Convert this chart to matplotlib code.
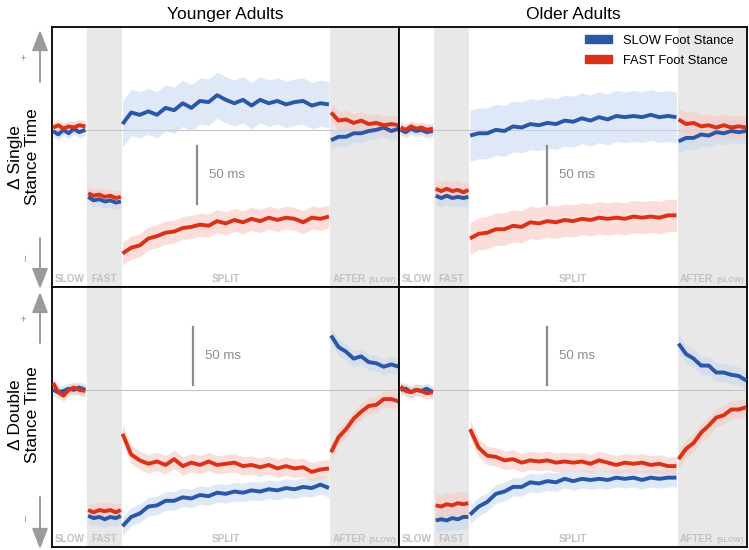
import numpy as np
import matplotlib
matplotlib.use("Agg")
import matplotlib.pyplot as plt
from matplotlib.patches import Patch

plt.rcParams['font.family'] = ['Liberation Sans', 'DejaVu Sans']

BLUE = '#2a57a8'
RED = '#da3219'
BLUE_BAND = '#c9d9f0'
RED_BAND = '#f9c9c2'
SHADE = '#e8e8e8'

# phase boundaries (percent of panel width)
PHASES = [0, 10, 20, 80, 100]

# sample positions inside each phase
X_SLOW = [0.3, 1.8, 3.3, 4.8, 6.3, 7.8, 9.6]
X_FAST = [10.4, 12.0, 13.6, 15.2, 16.8, 18.4, 19.8]
X_SPLIT = np.linspace(20.3, 79.7, 25)
X_AFTER = np.linspace(80.3, 99.8, 10)

# --- Younger adults, single stance (ms) ---
YS_BLUE = [[-1, -4, 0, -3, 1, -2, 0],
           [-58, -61, -60, -62, -61, -63, -62],
           [5, 15, 13, 16, 13, 19, 17, 23, 19, 25, 24, 30, 26, 23, 26, 21, 26, 23, 25, 22, 24, 25, 21, 23, 22],
           [-9, -6, -6, -3, -3, -1, 0, 2, -1, 1]]
YS_RED = [[2, 4, 1, 3, 2, 4, 3],
          [-55, -57, -56, -58, -57, -59, -58],
          [-107, -102, -100, -94, -92, -89, -88, -85, -84, -82, -83, -79, -81, -78, -80, -77, -79, -76, -78, -76, -77, -80, -76, -77, -75],
          [15, 8, 9, 6, 8, 5, 6, 4, 5, 4]]
YS_BAND = [[5, 5], [6, 6], [20, 10], [8, 8]]

# --- Older adults, single stance ---
OS_BLUE = [[0, -2, 1, -1, 0, -2, -1],
           [-57, -59, -57, -59, -58, -59, -58],
           [-5, -3, -3, 0, -1, 3, 2, 5, 4, 6, 5, 8, 7, 10, 8, 11, 9, 12, 11, 12, 11, 13, 11, 12, 11],
           [-10, -7, -7, -4, -5, -2, -3, -1, -2, -1]]
OS_RED = [[2, 0, 3, 1, 2, 0, 1],
          [-51, -53, -51, -53, -52, -54, -52],
          [-94, -90, -89, -86, -86, -83, -84, -80, -81, -79, -80, -78, -79, -77, -78, -76, -77, -76, -77, -75, -76, -75, -76, -74, -74],
          [9, 5, 6, 3, 4, 2, 4, 2, 3, 2]]
OS_BAND = [[5, 5], [8, 8], [22, 14], [10, 10]]

# --- Younger adults, double stance ---
YD_BLUE = [[0, -2, -1, 1, 0, 2, 0],
           [-109, -111, -110, -112, -110, -111, -109],
           [-118, -110, -107, -101, -100, -96, -96, -93, -94, -91, -92, -89, -90, -88, -89, -87, -88, -86, -87, -85, -86, -84, -85, -82, -85],
           [47, 37, 33, 27, 29, 24, 23, 20, 22, 20]]
YD_RED = [[6, -2, -5, 0, 2, 0, -1],
          [-104, -106, -104, -105, -104, -106, -104],
          [-38, -56, -61, -64, -62, -65, -60, -66, -63, -65, -62, -65, -64, -63, -66, -65, -67, -65, -68, -66, -68, -67, -71, -69, -68],
          [-54, -41, -34, -25, -19, -14, -13, -8, -8, -10]]
YD_BAND = [[5, 5], [7, 7], [8, 8], [7, 7]]

# --- Older adults, double stance ---
OD_BLUE = [[0, 1, -2, 0, -1, 1, -2],
           [-113, -112, -113, -111, -112, -110, -110],
           [-108, -101, -97, -90, -88, -84, -84, -80, -81, -79, -80, -77, -79, -77, -78, -77, -78, -76, -77, -76, -78, -76, -77, -76, -76],
           [40, 31, 27, 21, 21, 15, 15, 13, 12, 8]]
OD_RED = [[3, -1, -2, 0, -1, -3, -2],
          [-100, -101, -99, -100, -98, -99, -98],
          [-34, -50, -57, -58, -61, -60, -63, -61, -62, -61, -63, -62, -63, -62, -64, -61, -63, -65, -63, -64, -63, -65, -64, -66, -66],
          [-60, -51, -46, -37, -31, -24, -22, -17, -17, -15]]
OD_BAND = [[5, 5], [10, 10], [8, 8], [8, 8]]

COL_TITLES = ['Younger Adults', 'Older Adults']
ROW_LABELS = ['\u0394 Single\nStance Time', '\u0394 Double\nStance Time']
PHASE_LABELS = ['SLOW', 'FAST', 'SPLIT']
LEGEND_LABELS = ['SLOW Foot Stance', 'FAST Foot Stance']

YLIM = (-136, 89)

fig = plt.figure(figsize=(7.49, 5.5), dpi=100)
gs = fig.add_gridspec(2, 2, left=52/749, right=747/749, top=1-27/550, bottom=3/550,
                      wspace=0, hspace=0)

panels = [[(YS_BLUE, YS_RED, YS_BAND), (OS_BLUE, OS_RED, OS_BAND)],
          [(YD_BLUE, YD_RED, YD_BAND), (OD_BLUE, OD_RED, OD_BAND)]]
xs = [X_SLOW, X_FAST, X_SPLIT, X_AFTER]
scalebar_x = [[41.8, 42.4], [40.6, 42.4]]
scalebar_y = [(-64, -14), (4, 54)]

for r in range(2):
    for c in range(2):
        ax = fig.add_subplot(gs[r, c])
        blue, red, band = panels[r][c]
        ax.axvspan(PHASES[1], PHASES[2], color=SHADE, lw=0, zorder=0)
        ax.axvspan(PHASES[3], PHASES[4], color=SHADE, lw=0, zorder=0)
        ax.axhline(0, color='#c4c4c4', lw=0.8, zorder=1)
        for k in range(4):
            x = xs[k]
            b = np.array(blue[k], float)
            rd = np.array(red[k], float)
            ax.fill_between(x, b - band[k][0], b + band[k][0], color=BLUE_BAND, alpha=0.6, lw=0, zorder=2)
            ax.fill_between(x, rd - band[k][1], rd + band[k][1], color=RED_BAND, alpha=0.6, lw=0, zorder=2)
            ax.plot(x, b, color=BLUE, lw=2.8, zorder=3, solid_capstyle='butt')
            ax.plot(x, rd, color=RED, lw=2.8, zorder=3, solid_capstyle='butt')

        # 50 ms scale bar
        sx = scalebar_x[r][c]
        y0, y1 = scalebar_y[r]
        ax.plot([sx, sx], [y0, y1], color='#8c8c8c', lw=1.6, zorder=4)
        ax.text(sx + 3.5, (y0 + y1) / 2, '50 ms', color='#8c8c8c', fontsize=9.5,
                va='center', ha='left')

        # phase labels
        lab = dict(color='#c2c2c2', fontweight='bold', va='bottom',
                   transform=ax.get_xaxis_transform())
        ax.text(5, 0.012, PHASE_LABELS[0], ha='center', fontsize=7.2, **lab)
        ax.text(15, 0.012, PHASE_LABELS[1], ha='center', fontsize=7.2, **lab)
        ax.text(50, 0.012, PHASE_LABELS[2], ha='center', fontsize=7.2, **lab)
        ax.text(80.7, 0.012, 'AFTER', ha='left', fontsize=7.2, **lab)
        ax.text(91.2, 0.012, '(SLOW)', ha='left', fontsize=5.4, **lab)

        ax.set_xlim(0, 100)
        ax.set_ylim(*YLIM)
        ax.set_xticks([])
        ax.set_yticks([])
        for s in ax.spines.values():
            s.set_linewidth(1.3)
            s.set_color('black')
        if r == 0:
            ax.set_title(COL_TITLES[c], fontsize=12.5, pad=6)
        if r == 0 and c == 1:
            handles = [Patch(color=BLUE), Patch(color=RED)]
            ax.legend(handles, LEGEND_LABELS, loc='upper right', frameon=False,
                      fontsize=9.3, handlelength=2.1, handleheight=0.55,
                      handletextpad=0.85, labelspacing=0.6,
                      borderaxespad=0.2, bbox_to_anchor=(0.985, 1.0))

# left-side arrows and row labels (figure pixels, origin top-left)
H = 550.0
W = 749.0
def fxy(px, py):
    return (px / W, 1 - py / H)

arrow = dict(arrowstyle='-|>,head_length=0.9,head_width=0.35', color='#9a9a9a',
             lw=1.4, mutation_scale=14, shrinkA=0, shrinkB=0)
rows_px = [(82, 30, 238, 289, 57, 258, 157), (343, 292, 497, 549, 318, 518, 415)]
for i, (u0, u1, d0, d1, yp, ym, yc) in enumerate(rows_px):
    plt.annotate('', xy=fxy(40, u1), xytext=fxy(40, u0), xycoords='figure fraction',
                 textcoords='figure fraction', arrowprops=arrow)
    plt.annotate('', xy=fxy(40, d1), xytext=fxy(40, d0), xycoords='figure fraction',
                 textcoords='figure fraction', arrowprops=arrow)
    fig.text(*fxy(24, yp), '+', color='#8c8c8c', fontsize=8, ha='center', va='center',
             rotation=90)
    fig.text(*fxy(26, ym), '\u2013', color='#8c8c8c', fontsize=8, ha='center', va='center',
             rotation=90)
    fig.text(*fxy(24, yc), ROW_LABELS[i], fontsize=12.5, ha='center', va='center',
             rotation=90, linespacing=1.1)

fig.savefig('out.png', dpi=100)
